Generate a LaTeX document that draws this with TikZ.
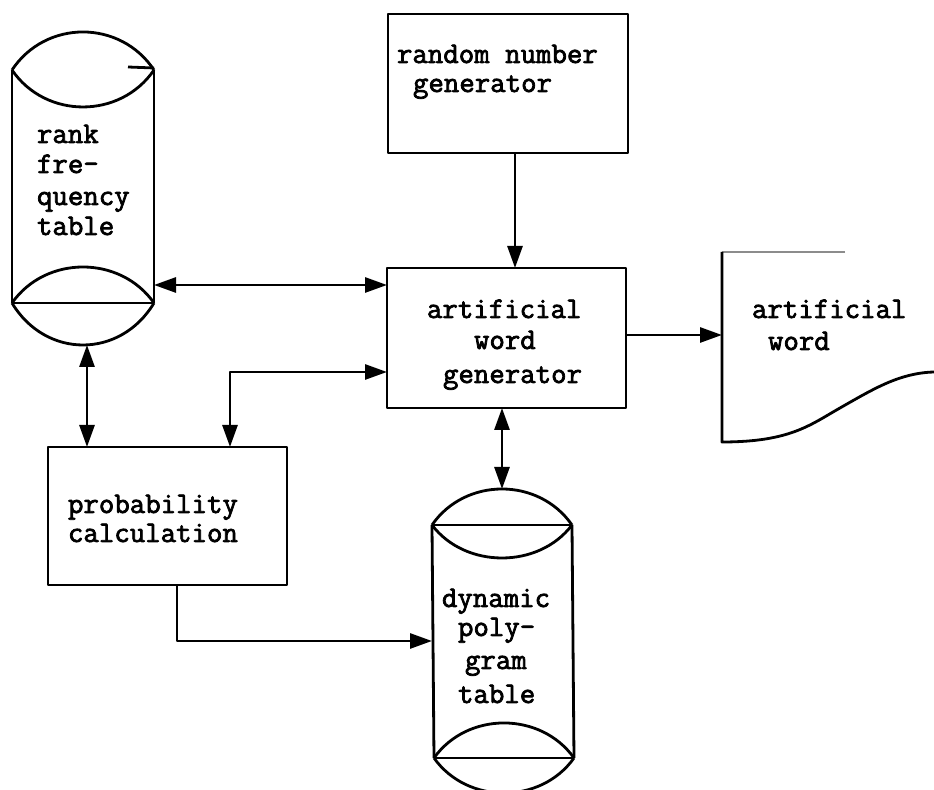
\documentclass[tikz,border=0pt]{standalone}
\usepackage{fontspec}
\newfontfamily\twfont{Latin Modern Mono}[FakeBold=2.5]
\usetikzlibrary{arrows.meta}

\begin{document}
\begin{tikzpicture}[x=0.5pt,y=-0.5pt,
  line width=1.4pt, line join=round,
  every node/.style={inner sep=0pt, outer sep=0pt},
  lbl/.style={anchor=base west, font=\twfont\fontsize{15pt}{18pt}\selectfont},
  boxnode/.style={draw, rectangle},
  zone/.style={rectangle},
  tip/.style={-{Triangle[length=11pt,width=7.5pt]}},
  dtip/.style={{Triangle[length=11pt,width=7.5pt]}-{Triangle[length=11pt,width=7.5pt]}},
]
\fill[white] (0,0) rectangle (934,790);
\useasboundingbox (0,0) rectangle (934,790);

% process boxes
\node[boxnode, minimum width=120pt, minimum height=69.5pt] (rng) at (508,83.5) {};
\node[boxnode, minimum width=119.5pt, minimum height=70pt] (awg) at (506.5,338) {};
\node[boxnode, minimum width=119.5pt, minimum height=69pt] (prob) at (167.5,516) {};

% outlines of the two storage drums and the output document
\node[zone, minimum width=71pt, minimum height=156.5pt] (rf) at (83,188.5) {};
\node[zone, minimum width=70pt, minimum height=152pt] (dp) at (502,641) {};
\node[zone, minimum width=106pt, minimum height=95pt] (doc) at (828,347) {};

% rank-frequency drum
\draw (12,70) .. controls (45.7,19.3) and (120.3,19.3) .. (154,70);
\draw (12,70) .. controls (45.7,119.3) and (120.3,119.3) .. (154,70);
\draw (12,70) -- (12,303) (154,70) -- (154,303);
\draw (12,303) -- (154,303);
\draw (12,303) .. controls (45.7,255) and (120.3,255) .. (154,303);
\draw (12,303) .. controls (45.7,359) and (120.3,359) .. (154,303);
\draw (128,67) -- (154,68);

% polygram drum
\draw (432,525) .. controls (465.2,477) and (538.8,477) .. (572,525);
\draw (432,525) .. controls (465.2,569) and (538.8,569) .. (572,525);
\draw (432,525) -- (572,525);
\draw (432,525) -- (434,758) (572,525) -- (574,758);
\draw (434,758) -- (574,758);
\draw (434,758) .. controls (467.2,711.3) and (540.8,711.3) .. (574,758);
\draw (434,758) .. controls (467.2,804.7) and (540.8,804.7) .. (574,758);

% document symbol (its faint top edge)
\draw[line width=0.8pt, black!45] (845,252) -- (722,252);
\draw (722,252) -- (722,442)
  .. controls (790,442) and (810,425) .. (840,408)
  .. controls (875,388) and (900,373) .. (934,372);

% texts
\node[lbl] (rft1) at (37,143) {rank};
\node[lbl] (rft2) at (37,173) {fre-};
\node[lbl] (rft3) at (37,205) {quency};
\node[lbl] (rft4) at (37,235) {table};

\node[lbl] (rngt1) at (397,63) {random number};
\node[lbl] (rngt2) at (413,92) {generator};

\node[lbl] (awgt1) at (427,318) {artificial};
\node[lbl] (awgt2) at (474,349) {word};
\node[lbl] (awgt3) at (443,383) {generator};

\node[lbl] (probt1) at (68,513) {probability};
\node[lbl] (probt2) at (68,542) {calculation};

\node[lbl] (dpt1) at (442,607) {dynamic};
\node[lbl] (dpt2) at (458,636) {poly-};
\node[lbl] (dpt3) at (465,669) {gram};
\node[lbl] (dpt4) at (458,703) {table};

\node[lbl] (doct1) at (752,318) {artificial};
\node[lbl] (doct2) at (768,350) {word};

% connectors
\draw[tip] ([xshift=3.5pt]rng.south) -- ([xshift=3.5pt]rng.south |- awg.north);
\draw[dtip] ([yshift=26.5pt]awg.west -| rf.east) -- ([yshift=26.5pt]awg.west);
\draw[dtip] ([xshift=2pt]rf.south) -- ([xshift=2pt]rf.south |- prob.north);
\draw[dtip] ([xshift=31.25pt]prob.north) |- ([yshift=-17pt]awg.west);
\draw[dtip] (dp.north |- awg.south) -- (dp.north);
\draw[tip] ([yshift=1.5pt]awg.east) -- ([yshift=1.5pt]awg.east -| doc.west);
\draw[tip] ([xshift=4.75pt]prob.south) |- (dp.west);
\end{tikzpicture}
\end{document}
